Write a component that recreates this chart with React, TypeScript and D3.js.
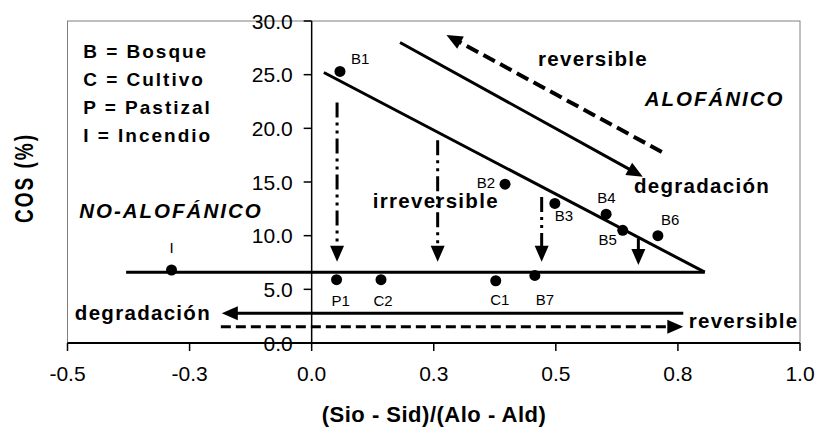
import React from "react";
import * as d3 from "d3";

const width = 817;
const height = 428;

// axis ticks (labels as printed, one decimal)
const xTicks = [-0.5, -0.25, 0, 0.25, 0.5, 0.75, 1.0];
const xTickLabels = ["-0.5", "-0.3", "0.0", "0.3", "0.5", "0.8", "1.0"];
const yTicks = [0, 5, 10, 15, 20, 25, 30];
const yTickLabels = ["0.0", "5.0", "10.0", "15.0", "20.0", "25.0", "30.0"];

// sampled soils
const pointNames = ["B1", "B2", "B3", "B4", "B5", "B6", "B7", "C1", "C2", "P1", "I"];
const pointX = [0.058, 0.396, 0.498, 0.603, 0.637, 0.709, 0.457, 0.377, 0.142, 0.051, -0.287];
const pointY = [25.3, 14.8, 13.0, 12.0, 10.5, 10.0, 6.3, 5.8, 5.9, 5.9, 6.8];

// triangle boundaries
const diagonalX = [0.025, 0.805];
const diagonalY = [25.2, 6.6];
const floorX = [-0.38, 0.805];
const floorY = [6.6, 6.6];

// arrows: [x1, y1, x2, y2] (tip at x2,y2)
const upperDegradation = [0.181, 28.0, 0.678, 15.5];
const upperReversible = [0.717, 17.8, 0.276, 28.7];
const lowerDegradation = [0.761, 2.77, -0.184, 2.77];
const lowerReversible = [-0.186, 1.52, 0.761, 1.52];
const dropX = [0.052, 0.258, 0.471];
const dropTop = [22.4, 18.9, 13.6];
const dropTip = 7.57;
const shortDrop = [0.669, 9.75, 0.669, 7.27];

const legendLines = ["B = Bosque", "C = Cultivo", "P = Pastizal", "I  = Incendio"];

// label offsets in px relative to each point
const labelPos: Record<string, [number, number, string]> = {
  B1: [11, -7, "start"],
  B2: [-10, 4, "end"],
  B3: [0, 18, "start"],
  B4: [-9, -11, "start"],
  B5: [-6, 15, "end"],
  B6: [3, -11, "start"],
  B7: [10, 30, "middle"],
  C1: [4, 24, "middle"],
  C2: [2, 26, "middle"],
  P1: [4, 26, "middle"],
  I: [0, -17, "middle"],
};

const font = "'Liberation Sans', Arial, sans-serif";

const x = d3.scaleLinear().domain([-0.5, 1.0]).range([67.5, 800]);
const y = d3.scaleLinear().domain([0, 30]).range([343, 21]);

function arrowParts(a: number[], len = 16, hw = 7) {
  const x1 = x(a[0]), y1 = y(a[1]), x2 = x(a[2]), y2 = y(a[3]);
  const dx = x2 - x1, dy = y2 - y1;
  const d = Math.hypot(dx, dy);
  const ux = dx / d, uy = dy / d;
  const bx = x2 - ux * len, by = y2 - uy * len;
  const head = `M${x2},${y2}L${bx - uy * hw},${by + ux * hw}L${bx + uy * hw},${by - ux * hw}Z`;
  return { x1, y1, xe: x2 - ux * (len - 2), ye: y2 - uy * (len - 2), head };
}

function Arrow({ a, dash, sw = 3 }: { a: number[]; dash?: string; sw?: number }) {
  const p = arrowParts(a);
  return (
    <g>
      <line x1={p.x1} y1={p.y1} x2={p.xe} y2={p.ye} stroke="#000" strokeWidth={sw} strokeDasharray={dash} />
      <path d={p.head} fill="#000" />
    </g>
  );
}

function BoldText({ vx, vy, children, italic = false, size = 20.5, ls = 1.3 }:
  { vx: number; vy: number; children: string; italic?: boolean; size?: number; ls?: number }) {
  return (
    <text x={x(vx)} y={y(vy)} fontFamily={font} fontSize={size} fontWeight="bold"
      fontStyle={italic ? "italic" : "normal"} letterSpacing={ls} fill="#000">
      {children}
    </text>
  );
}

export default function App() {
  const line = d3.line<number>();
  const diag = diagonalX.map((v, i) => [x(v), y(diagonalY[i])] as [number, number]);
  const floor = floorX.map((v, i) => [x(v), y(floorY[i])] as [number, number]);

  return (
    <svg width={width} height={height} style={{ position: "absolute", left: 0, top: 0, background: "#fff" }}>
      {/* plot frame */}
      <rect x={x(-0.5)} y={y(30)} width={x(1.0) - x(-0.5)} height={y(0) - y(30)} fill="none" stroke="#808080" strokeWidth={1} />

      {/* y axis at x = 0 */}
      <line x1={x(0)} x2={x(0)} y1={y(30)} y2={y(0)} stroke="#000" strokeWidth={1.5} />
      {yTicks.map((t, i) => (
        <g key={"y" + t}>
          <line x1={x(0) - 8} x2={x(0)} y1={y(t)} y2={y(t)} stroke="#000" strokeWidth={1.5} />
          <text x={x(0) - 19} y={y(t)} dy="0.36em" textAnchor="end" fontFamily={font} fontSize={21} fill="#000">
            {yTickLabels[i]}
          </text>
        </g>
      ))}

      {/* x axis */}
      <line x1={x(-0.5)} x2={x(1.0)} y1={y(0)} y2={y(0)} stroke="#000" strokeWidth={2} />
      {xTicks.map((t, i) => (
        <g key={"x" + t}>
          <line x1={x(t)} x2={x(t)} y1={y(0)} y2={y(0) + 8} stroke="#000" strokeWidth={1.5} />
          <text x={x(t)} y={381} textAnchor="middle" fontFamily={font} fontSize={21} fill="#000">
            {xTickLabels[i]}
          </text>
        </g>
      ))}

      {/* axis titles */}
      <text x={434} y={421.5} textAnchor="middle" fontFamily={font} fontSize={22} fontWeight="bold" letterSpacing={0.5}>
        (Sio - Sid)/(Alo - Ald)
      </text>
      <text transform="translate(33,178) scale(1.35,1) rotate(-90)" textAnchor="middle" fontFamily={font}
        fontSize={19} fontWeight="bold" letterSpacing={2}>
        COS (%)
      </text>

      {/* boundaries */}
      <path d={line(diag) ?? ""} stroke="#000" strokeWidth={3} fill="none" />
      <path d={line(floor) ?? ""} stroke="#000" strokeWidth={3} fill="none" />

      {/* arrows */}
      <Arrow a={upperDegradation} />
      <Arrow a={upperReversible} dash="13,6" sw={4} />
      <Arrow a={lowerDegradation} />
      <Arrow a={lowerReversible} dash="10,5" />
      {dropX.map((v, i) => (
        <Arrow key={"d" + i} a={[v, dropTop[i], v, dropTip]} dash="15,5,3,5,3,5" />
      ))}
      <Arrow a={shortDrop} />

      {/* points */}
      {pointNames.map((n, i) => {
        const [dx, dy, anchor] = labelPos[n];
        const cx = x(pointX[i]), cy = y(pointY[i]);
        return (
          <g key={n}>
            <circle cx={cx} cy={cy} r={5.5} fill="#000" />
            <text x={cx + dx} y={cy + dy} textAnchor={anchor} fontFamily={font} fontSize={15} fill="#000">
              {n}
            </text>
          </g>
        );
      })}

      {/* annotations */}
      {legendLines.map((t, i) => (
        <BoldText key={t} vx={-0.468} vy={26.52 - i * 2.585} size={19} ls={2}>{t}</BoldText>
      ))}
      <BoldText vx={0.4636} vy={25.8}>reversible</BoldText>
      <BoldText vx={0.682} vy={22.08} italic ls={2}>ALOFÁNICO</BoldText>
      <BoldText vx={0.66} vy={13.98}>degradación</BoldText>
      <BoldText vx={0.125} vy={12.58}>irreversible</BoldText>
      <BoldText vx={-0.476} vy={11.65} italic ls={2}>NO-ALOFÁNICO</BoldText>
      <BoldText vx={-0.485} vy={2.14}>degradación</BoldText>
      <BoldText vx={0.772} vy={1.4}>reversible</BoldText>
    </svg>
  );
}
